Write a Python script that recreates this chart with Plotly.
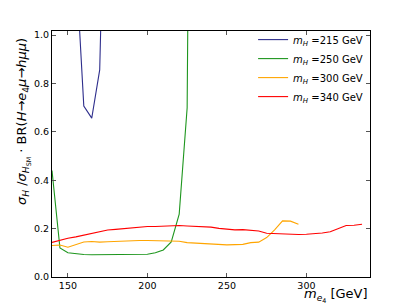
import plotly.graph_objects as go

# m_H = 215 GeV
x_215 = [155, 160, 165, 170, 175]
y_215 = [1.30, 0.707, 0.657, 0.856, 2.20]

# m_H = 250 GeV
x_250 = [140, 145, 150, 155, 160, 165, 170, 175, 180, 185, 190, 195, 200, 205, 210, 215, 220, 225, 230]
y_250 = [0.44, 0.12, 0.10, 0.095, 0.093, 0.092, 0.092, 0.092, 0.092, 0.092, 0.092, 0.093, 0.094, 0.100,
         0.112, 0.145, 0.26, 0.70, 5.0]

# m_H = 300 GeV
x_300 = [140, 145, 150, 155, 160, 165, 170, 175, 180, 185, 190, 195, 200, 205, 210, 215, 220, 225, 230,
         235, 240, 245, 250, 255, 260, 265, 270, 275, 280, 285, 290, 295]
y_300 = [0.130, 0.132, 0.123, 0.133, 0.145, 0.147, 0.144, 0.146, 0.148, 0.147, 0.150, 0.151, 0.151, 0.151,
         0.151, 0.150, 0.148, 0.142, 0.140, 0.140, 0.137, 0.134, 0.133, 0.134, 0.135, 0.142, 0.144, 0.163,
         0.195, 0.232, 0.231, 0.218]

# m_H = 340 GeV
x_340 = [140, 145, 150, 155, 160, 165, 170, 175, 180, 185, 190, 195, 200, 205, 210, 215, 220, 225, 230,
         235, 240, 245, 250, 255, 260, 265, 270, 275, 280, 285, 290, 295, 300, 305, 310, 315, 320, 325,
         330, 335]
y_340 = [0.143, 0.152, 0.160, 0.166, 0.173, 0.180, 0.190, 0.194, 0.197, 0.200, 0.204, 0.207, 0.209, 0.209,
         0.211, 0.212, 0.213, 0.211, 0.209, 0.210, 0.206, 0.201, 0.197, 0.195, 0.196, 0.193, 0.190, 0.181,
         0.179, 0.177, 0.176, 0.176, 0.177, 0.178, 0.182, 0.187, 0.200, 0.213, 0.214, 0.218]

x_ticks = [150, 200, 250, 300]
y_ticks = [0.0, 0.2, 0.4, 0.6, 0.8, 1.0]
y_tick_labels = ["0.0", "0.2", "0.4", "0.6", "0.8", "1.0"]

MATH = "font-family:'Liberation Serif'"
def mi(s):
    return f"<span style='{MATH}'><i>{s}</i></span>"

series = [
    (x_215, y_215, "215", "#2e2e8c"),
    (x_250, y_250, "250", "#1e961e"),
    (x_300, y_300, "300", "#ffa500"),
    (x_340, y_340, "340", "#ff0000"),
]

fig = go.Figure()
for xs, ys, m, col in series:
    fig.add_trace(go.Scatter(
        x=xs, y=ys, mode="lines",
        line=dict(color=col, width=1.1),
        name=f"{mi('m')}<sub>{mi('H')}</sub> ={m} GeV",
    ))

fig.update_layout(
    width=403, height=300,
    margin=dict(l=44, r=41, t=23, b=31),
    paper_bgcolor="white", plot_bgcolor="white",
    font=dict(family="DejaVu Sans", size=9, color="black"),
    showlegend=True,
    legend=dict(
        x=0.994, y=1.024, xanchor="right", yanchor="top",
        bgcolor="rgba(0,0,0,0)", borderwidth=0,
        font=dict(size=10), itemwidth=30, tracegroupgap=0,
    ),
    xaxis=dict(
        range=[140, 340], tickvals=x_ticks, ticks="inside", ticklen=4,
        tickcolor="#555", showline=True, linecolor="black", linewidth=1,
        mirror="ticks", showgrid=False, zeroline=False,
        tickfont=dict(size=9.5),
    ),
    yaxis=dict(
        range=[0, 1.017], tickvals=y_ticks, ticktext=y_tick_labels, ticks="inside",
        ticklen=4, tickcolor="#555", showline=True, linecolor="black", linewidth=1,
        mirror="ticks", showgrid=False, zeroline=False,
        tickfont=dict(size=9.5),
    ),
)

ytitle = (f"{mi('σ')}<sub>{mi('H')}</sub> /{mi('σ')}<sub>{mi('H')}<sub>SM</sub></sub> · "
          f"BR({mi('H')}→{mi('e')}<sub>4</sub>{mi('μ')}→{mi('hμμ')})")
fig.add_annotation(
    text=ytitle, textangle=-90, xref="paper", yref="paper",
    x=0, xshift=-29, y=0.63, xanchor="center", yanchor="middle", showarrow=False,
    font=dict(size=13),
)
fig.add_annotation(
    text=f"{mi('m')}<sub>{mi('e')}<sub>4</sub></sub> [GeV]",
    xref="paper", yref="paper", x=1.0, y=0, yshift=-18, xanchor="right", yanchor="middle",
    showarrow=False, font=dict(size=13),
)

fig.write_html("out.html")
